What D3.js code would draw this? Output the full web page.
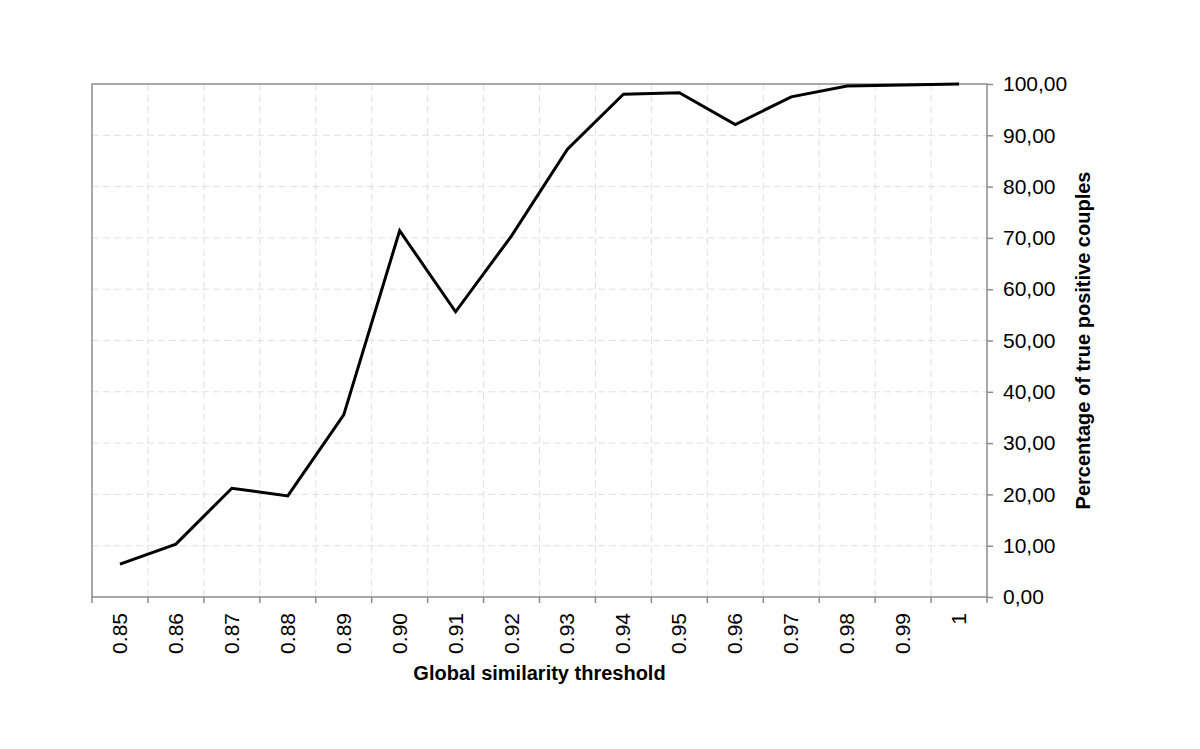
<!DOCTYPE html>
<html>
<head>
<meta charset="utf-8">
<script src="https://cdn.jsdelivr.net/npm/d3@7"></script>
<style>
    body { margin: 0; background: #fff; }
    text { font-family: "Liberation Sans", Arial, sans-serif; fill: #000; }
</style>
</head>
<body>
<div id="chart"></div>
<script>
// Chart data
const thresholds = ["0.85", "0.86", "0.87", "0.88", "0.89", "0.90", "0.91", "0.92",
    "0.93", "0.94", "0.95", "0.96", "0.97", "0.98", "0.99", "1"];
const truePositivePct = [6.4, 10.3, 21.2, 19.7, 35.5, 71.4, 55.6, 70.4,
    87.3, 98.0, 98.3, 92.1, 97.5, 99.6, 99.8, 100.0];
const yTicks = [0, 10, 20, 30, 40, 50, 60, 70, 80, 90, 100];

const margin = { top: 84, right: 213, bottom: 152, left: 92 },
    width = 1200 - margin.left - margin.right,
    height = 749 - margin.top - margin.bottom;

const svg = d3.select("#chart")
    .append("svg")
    .attr("width", 1200)
    .attr("height", 749)
    .append("g")
    .attr("transform", `translate(${margin.left},${margin.top})`);

const x = d3.scaleBand().domain(thresholds).range([0, width]);
const y = d3.scaleLinear().domain([0, 100]).range([height, 0]);

// gridlines
svg.append("g")
    .selectAll("line")
    .data(yTicks.slice(1, -1))
    .enter().append("line")
    .attr("x1", 0).attr("x2", width)
    .attr("y1", d => y(d)).attr("y2", d => y(d))
    .attr("stroke", "#e0e0e0")
    .attr("stroke-dasharray", "7,4");

svg.append("g")
    .selectAll("line")
    .data(thresholds.slice(1))
    .enter().append("line")
    .attr("x1", d => x(d)).attr("x2", d => x(d))
    .attr("y1", 0).attr("y2", height)
    .attr("stroke", "#e0e0e0")
    .attr("stroke-dasharray", "7,4");

// plot frame
svg.append("rect")
    .attr("width", width)
    .attr("height", height)
    .attr("fill", "none")
    .attr("stroke", "#8c8c8c")
    .attr("stroke-width", 1.5);

// x axis: ticks on category boundaries
const xAxis = svg.append("g").attr("transform", `translate(0,${height})`);
xAxis.selectAll("line")
    .data(thresholds.map(d => x(d)).concat([width]))
    .enter().append("line")
    .attr("x1", d => d).attr("x2", d => d)
    .attr("y1", 0).attr("y2", 6)
    .attr("stroke", "#8c8c8c")
    .attr("stroke-width", 1.5);
xAxis.selectAll("text")
    .data(thresholds)
    .enter().append("text")
    .attr("transform", d => `translate(${x(d) + x.bandwidth() / 2 + 7},${16}) rotate(-90)`)
    .attr("text-anchor", "end")
    .style("font-size", "21px")
    .text(d => d);

// right y axis
const fmt = d => d3.format(".2f")(d).replace(".", ",");
svg.append("g")
    .attr("transform", `translate(${width},0)`)
    .call(d3.axisRight(y).tickValues(yTicks).tickSize(6).tickPadding(10).tickFormat(fmt))
    .call(g => g.select(".domain").remove())
    .call(g => g.selectAll("line").attr("stroke", "#8c8c8c").attr("stroke-width", 1.5))
    .call(g => g.selectAll("text")
        .style("font-size", "21px")
        .style("font-family", '"Liberation Sans", Arial, sans-serif')
        .attr("fill", "#000"));

// the line
const valueline = d3.line()
    .x((d, i) => x(thresholds[i]) + x.bandwidth() / 2)
    .y(d => y(d));

svg.append("path")
    .datum(truePositivePct)
    .attr("d", valueline)
    .attr("fill", "none")
    .attr("stroke", "#000")
    .attr("stroke-width", 3)
    .attr("stroke-linejoin", "miter");

// axis titles
svg.append("text")
    .attr("x", width / 2)
    .attr("y", height + 83)
    .attr("text-anchor", "middle")
    .style("font-size", "20px")
    .style("font-weight", "bold")
    .text("Global similarity threshold");

svg.append("text")
    .attr("transform", `translate(${width + 103},${height / 2}) rotate(-90)`)
    .attr("text-anchor", "middle")
    .style("font-size", "20px")
    .style("font-weight", "bold")
    .text("Percentage of true positive couples");
</script>
</body>
</html>
